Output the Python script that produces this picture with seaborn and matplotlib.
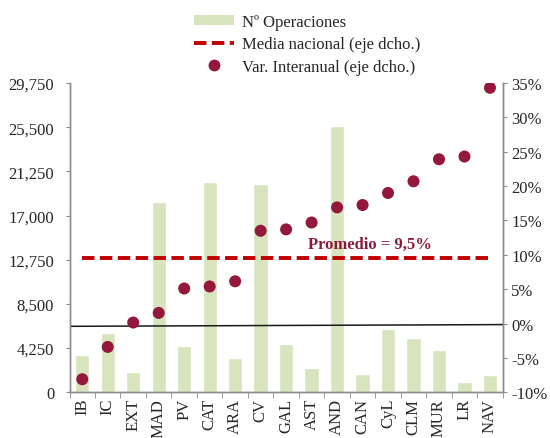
import numpy as np
import pandas as pd
import matplotlib
matplotlib.use("Agg")
import matplotlib.pyplot as plt
import seaborn as sns
from matplotlib.lines import Line2D
from matplotlib.patches import Patch
from matplotlib.ticker import FuncFormatter, FixedLocator

# data

regions = ["IB", "IC", "EXT", "MAD", "PV", "CAT", "ARA", "CV", "GAL", "AST",
           "AND", "CAN", "CyL", "CLM", "MUR", "LR", "NAV"]
operaciones = [3630, 5720, 1990, 18270, 4500, 20230, 3280, 20000, 4660, 2350,
               25630, 1800, 6110, 5270, 4110, 970, 1700]
var_interanual = [-8.1, -3.4, 0.15, 1.55, 5.1, 5.4, 6.15, 13.5, 13.7, 14.7,
                  16.9, 17.25, 19.0, 20.7, 23.9, 24.3, 34.3]
media_nacional = 9.5
zero_line = [-0.4, -0.15]  # slightly tilted reference line, left/right ends

left_ticks = [0, 4250, 8500, 12750, 17000, 21250, 25500, 29750]
right_ticks = [-10, -5, 0, 5, 10, 15, 20, 25, 30, 35]

df = pd.DataFrame({"region": regions, "ops": operaciones, "var": var_interanual})
df["pos"] = np.arange(len(df))

sns.set_style("white")
plt.rcParams["font.family"] = ["Liberation Serif", "DejaVu Serif"]

bar_color = "#D7E4BD"
dot_color = "#93183B"
line_color = "#C00000"
spine_color = "#8C8C8C"

fig = plt.figure(figsize=(5.5, 4.39), dpi=100)
ax = fig.add_axes([0.1264, 0.1041, 0.7876, 0.7046])

# bars on left axis
sns.barplot(data=df, x="region", y="ops", color=bar_color, saturation=1,
            width=0.56, ax=ax)
ax.set_xlim(-0.5, len(regions) - 0.5)
ax.set_ylim(0, 29750)
ax.set_yticks(left_ticks)
ax.yaxis.set_major_formatter(FuncFormatter(lambda v, p: f"{int(v):,}"))
ax.set_xlabel("")
ax.set_ylabel("")
ax.tick_params(axis="x", which="major", length=0, labelsize=12, rotation=90, pad=4)
ax.xaxis.set_minor_locator(FixedLocator(np.arange(len(regions) + 1) - 0.5))
ax.tick_params(axis="x", which="minor", length=4, color=spine_color, bottom=True)
ax.tick_params(axis="y", length=3, color=spine_color, labelsize=12, left=True, pad=8)

# points and lines on right axis
ax2 = ax.twinx()
ax2.set_ylim(-10, 35)
ax2.set_yticks(right_ticks)
ax2.yaxis.set_major_formatter(FuncFormatter(lambda v, p: f"{int(v)}%"))
ax2.tick_params(axis="y", length=3, color=spine_color, labelsize=12, right=True, pad=3)

ax2.plot([-0.5, len(regions) - 0.5], zero_line, color="#1a1a1a", lw=1.1, zorder=2)
ax2.plot(df["pos"], [media_nacional] * len(df), color=line_color, lw=2.8,
         dashes=(3.2, 1.4), zorder=3)
sns.scatterplot(data=df, x="pos", y="var", color=dot_color, s=75,
                edgecolor="none", ax=ax2, zorder=4)
ax2.set_xlim(-0.5, len(regions) - 0.5)
ax2.set_xlabel("")
ax2.set_ylabel("")

ax2.text(8.85, 11.6, "Promedio = 9,5%", color="#8B1A3A", fontsize=12,
         fontweight="bold", ha="left", va="center")

for a in (ax, ax2):
    a.spines["top"].set_visible(False)
    for s in ("left", "right", "bottom"):
        a.spines[s].set_color(spine_color)
        a.spines[s].set_linewidth(1)

# legend
handles = [
    Patch(facecolor=bar_color, edgecolor="none"),
    Line2D([0], [0], color=line_color, lw=2.8, dashes=(3.2, 1.4)),
    Line2D([0], [0], color=dot_color, marker="o", linestyle="none", markersize=7.5),
]
labels = ["Nº Operaciones", "Media nacional (eje dcho.)", "Var. Interanual (eje dcho.)"]
fig.legend(handles, labels, loc="upper left", bbox_to_anchor=(0.326, 1.0),
           frameon=False, fontsize=12, handlelength=2.4, handletextpad=0.45,
           labelspacing=0.38, handleheight=0.6)

fig.savefig("out.png", dpi=100)
